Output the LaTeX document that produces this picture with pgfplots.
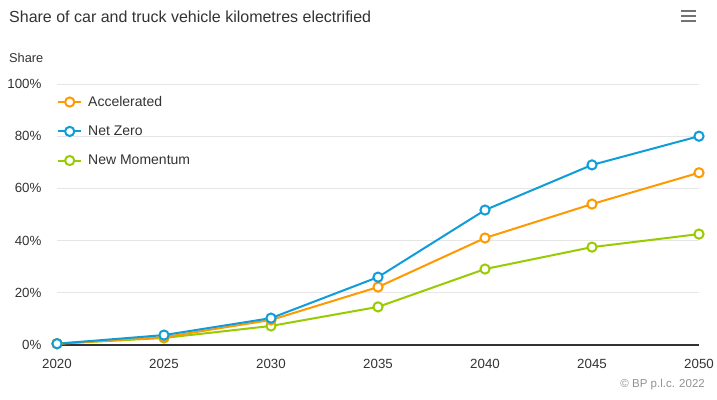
\documentclass[border=0pt]{standalone}
\usepackage{fontspec}
\setmainfont{Liberation Sans}
\usepackage{pgfplots}
\pgfplotsset{compat=1.18}
\definecolor{acc}{HTML}{FF9900}
\definecolor{nz}{HTML}{0F9DD9}
\definecolor{nm}{HTML}{99CC00}
\definecolor{txt}{HTML}{333333}
\definecolor{gridc}{HTML}{E6E6E6}
\begin{document}
\begin{tikzpicture}
\path[use as bounding box, fill=white] (0pt,0pt) rectangle (717pt,399pt);
\node[anchor=west, inner sep=0, font=\fontsize{16}{19}\selectfont, text=txt] at (9pt,382pt) {Share of car and truck vehicle kilometres electrified};
\node[anchor=west, inner sep=0, font=\fontsize{12.8}{15}\selectfont, text=txt] at (9pt,341pt) {Share};
\node[anchor=east, inner sep=0, font=\fontsize{11.5}{13}\selectfont, text=gray!85] at (705pt,14pt) {\textcopyright\ BP p.l.c. 2022};
\foreach \yy in {388,383,378} \draw[line width=2.5pt, color=gray!90!black] (681pt,\yy pt) -- (696pt,\yy pt);
\begin{axis}[
  at={(57pt,54pt)}, anchor=south west, scale only axis,
  width=642pt, height=261pt,
  xmin=2020, xmax=2050, ymin=0, ymax=100,
  clip=false,
  axis x line=bottom, axis y line=left,
  x axis line style={-, line width=1.2pt, color=txt},
  y axis line style={draw=none},
  xtick={2020,2025,...,2050},
  ytick={0,20,...,100},
  major tick length=0pt,
  ymajorgrids,
  major grid style={line width=0.8pt, color=gridc},
  xticklabel={\pgfmathprintnumber[1000 sep={}]{\tick}},
  yticklabel={\pgfmathprintnumber{\tick}\%},
  /pgf/number format/assume math mode=true,
  tick label style={font=\fontsize{13.3}{15}\selectfont, text=txt},
  xticklabel style={yshift=-11pt},
  yticklabel style={anchor=east, xshift=-12pt},
  legend style={at={(0,1)}, anchor=north west, yshift=-12pt, draw=none, fill=none, inner sep=0pt,
    row sep=18pt, font=\fontsize{14}{16}\selectfont, text=txt,
    nodes={inner sep=0pt},
    /tikz/every odd column/.append style={column sep=6pt}},
  legend cell align=left,
  legend image code/.code={\draw[mark repeat=2, mark phase=2] plot coordinates {(0pt,0pt) (11.5pt,0pt) (23pt,0pt)};},
  every axis plot/.append style={line width=2pt, mark=*, mark size=4.6pt, mark options={fill=white, line width=2pt}},
]
\addlegendimage{color=acc}
\addlegendentry{Accelerated}
\addlegendimage{color=nz}
\addlegendentry{Net Zero}
\addlegendimage{color=nm}
\addlegendentry{New Momentum}
\addplot[color=nm, forget plot] coordinates {(2020,0.5) (2025,2.7) (2030,7.3) (2035,14.6) (2040,29.1) (2045,37.5) (2050,42.5)};
\addplot[color=acc, forget plot] coordinates {(2020,0.5) (2025,3.0) (2030,9.6) (2035,22.2) (2040,41.0) (2045,54.0) (2050,66.0)};
\addplot[color=nz, forget plot] coordinates {(2020,0.5) (2025,3.8) (2030,10.3) (2035,26.0) (2040,51.7) (2045,69.0) (2050,80.0)};
\end{axis}
\end{tikzpicture}
\end{document}
